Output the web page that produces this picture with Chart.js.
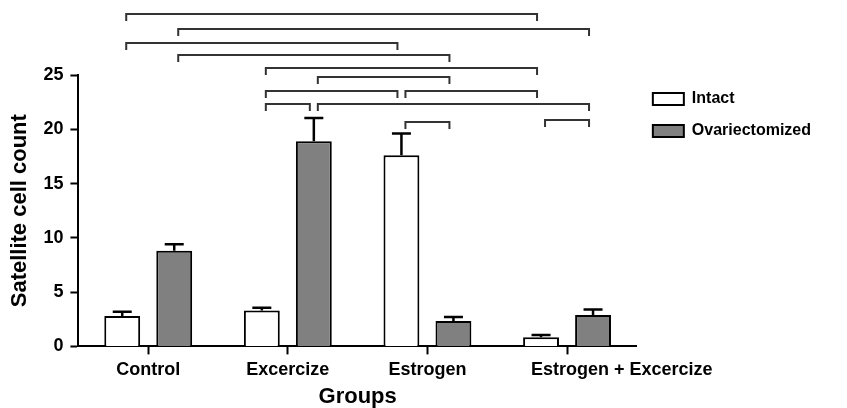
<!DOCTYPE html>
<html>
<head>
<meta charset="utf-8">
<script src="https://cdn.jsdelivr.net/npm/chart.js@4.4.1/dist/chart.umd.min.js"></script>
<style>
  body { margin: 0; background: #fff; }
  #wrap { width: 847px; height: 408px; }
</style>
</head>
<body>
<div id="wrap"><canvas id="chart"></canvas></div>
<script>
const groups = ['Control', 'Excercize', 'Estrogen', 'Estrogen + Excercize'];
const intact = [2.8, 3.3, 17.6, 0.85];
const intactSem = [0.4, 0.25, 2.0, 0.2];
const ovx = [8.8, 18.9, 2.35, 2.9];
const ovxSem = [0.6, 2.15, 0.35, 0.5];
const yTicks = [0, 5, 10, 15, 20, 25];

// significance brackets: from [group, series] to [group, series], height in y units
const brackets = [
  [0, 0, 3, 0, 30.65],
  [0, 1, 3, 1, 29.25],
  [0, 0, 2, 0, 27.95],
  [0, 1, 2, 1, 26.85],
  [1, 0, 3, 0, 25.65],
  [1, 1, 2, 1, 24.8],
  [1, 0, 2, 0, 23.5],
  [2, 0, 3, 0, 23.5],
  [1, 0, 1, 1, 22.3],
  [1, 1, 3, 1, 22.3],
  [2, 0, 2, 1, 20.65],
  [3, 0, 3, 1, 20.9]
];

const FONT = '"Liberation Sans", Arial, sans-serif';

const errorBars = {
  id: 'errorBars',
  afterDatasetsDraw(chart) {
    const ctx = chart.ctx;
    const y = chart.scales.y;
    ctx.save();
    ctx.strokeStyle = '#000';
    ctx.lineWidth = 2.5;
    chart.data.datasets.forEach((ds, di) => {
      chart.getDatasetMeta(di).data.forEach((bar, i) => {
        const top = y.getPixelForValue(ds.data[i] + ds.sem[i]);
        ctx.beginPath();
        ctx.moveTo(bar.x, bar.y);
        ctx.lineTo(bar.x, top);
        ctx.moveTo(bar.x - 9.5, top);
        ctx.lineTo(bar.x + 9.5, top);
        ctx.stroke();
      });
    });
    ctx.restore();
  }
};

const sigBrackets = {
  id: 'sigBrackets',
  afterDraw(chart) {
    const ctx = chart.ctx;
    const y = chart.scales.y;
    ctx.save();
    ctx.strokeStyle = '#333';
    ctx.lineWidth = 2;
    brackets.forEach(b => {
      const x1 = chart.getDatasetMeta(b[1]).data[b[0]].x + 4;
      const x2 = chart.getDatasetMeta(b[3]).data[b[2]].x - 4;
      const py = Math.round(y.getPixelForValue(b[4]));
      ctx.beginPath();
      ctx.moveTo(x1, py + 7);
      ctx.lineTo(x1, py);
      ctx.lineTo(x2, py);
      ctx.lineTo(x2, py + 7);
      ctx.stroke();
    });
    ctx.restore();
  }
};

// the long last category label starts a little left of its tick, as in the original
const lastLabelShift = {
  id: 'lastLabelShift',
  beforeDraw(chart) {
    const items = chart.scales.x.getLabelItems();
    const last = items[items.length - 1];
    if (last && last.options.textAlign !== 'left') {
      last.options.textAlign = 'left';
      last.options.translation[0] -= 36;
    }
  }
};

new Chart(document.getElementById('chart'), {
  type: 'bar',
  data: {
    labels: groups,
    datasets: [
      {
        label: 'Intact',
        data: intact,
        sem: intactSem,
        backgroundColor: '#ffffff',
        borderColor: '#000',
        borderWidth: 2
      },
      {
        label: 'Ovariectomized',
        data: ovx,
        sem: ovxSem,
        backgroundColor: '#808080',
        borderColor: '#000',
        borderWidth: 2
      }
    ]
  },
  options: {
    responsive: true,
    maintainAspectRatio: false,
    animation: false,
    categoryPercentage: 0.745,
    barPercentage: 0.69,
    layout: { padding: { top: 75, right: 26, left: 0, bottom: 0 } },
    plugins: {
      legend: {
        position: 'right',
        align: 'start',
        fullSize: false,
        labels: {
          color: '#000',
          font: { family: FONT, size: 16, weight: 'bold' },
          boxWidth: 31,
          boxHeight: 12,
          padding: 16
        }
      },
      tooltip: { enabled: false }
    },
    scales: {
      x: {
        grid: { drawOnChartArea: false, offset: false, tickLength: 8, tickWidth: 2, tickColor: '#000' },
        border: { color: '#000', width: 2 },
        ticks: {
          color: '#000',
          padding: 5,
          autoSkip: false,
          maxRotation: 0,
          font: { family: FONT, size: 18, weight: 'bold' }
        },
        title: {
          display: true,
          text: 'Groups',
          color: '#000',
          padding: { top: 0, bottom: 0 },
          font: { family: FONT, size: 22, weight: 'bold', lineHeight: 1 }
        }
      },
      y: {
        min: 0,
        max: 25,
        afterBuildTicks: axis => { axis.ticks = yTicks.map(v => ({ value: v })); },
        grid: { drawOnChartArea: false, tickLength: 8, tickWidth: 2, tickColor: '#000' },
        border: { color: '#000', width: 2 },
        ticks: { color: '#000', padding: 7, font: { family: FONT, size: 18, weight: 'bold' } },
        title: {
          display: true,
          text: 'Satellite cell count',
          color: '#000',
          padding: { top: 7, bottom: 3 },
          font: { family: FONT, size: 22, weight: 'bold' }
        }
      }
    }
  },
  plugins: [errorBars, sigBrackets, lastLabelShift]
});
</script>
</body>
</html>
